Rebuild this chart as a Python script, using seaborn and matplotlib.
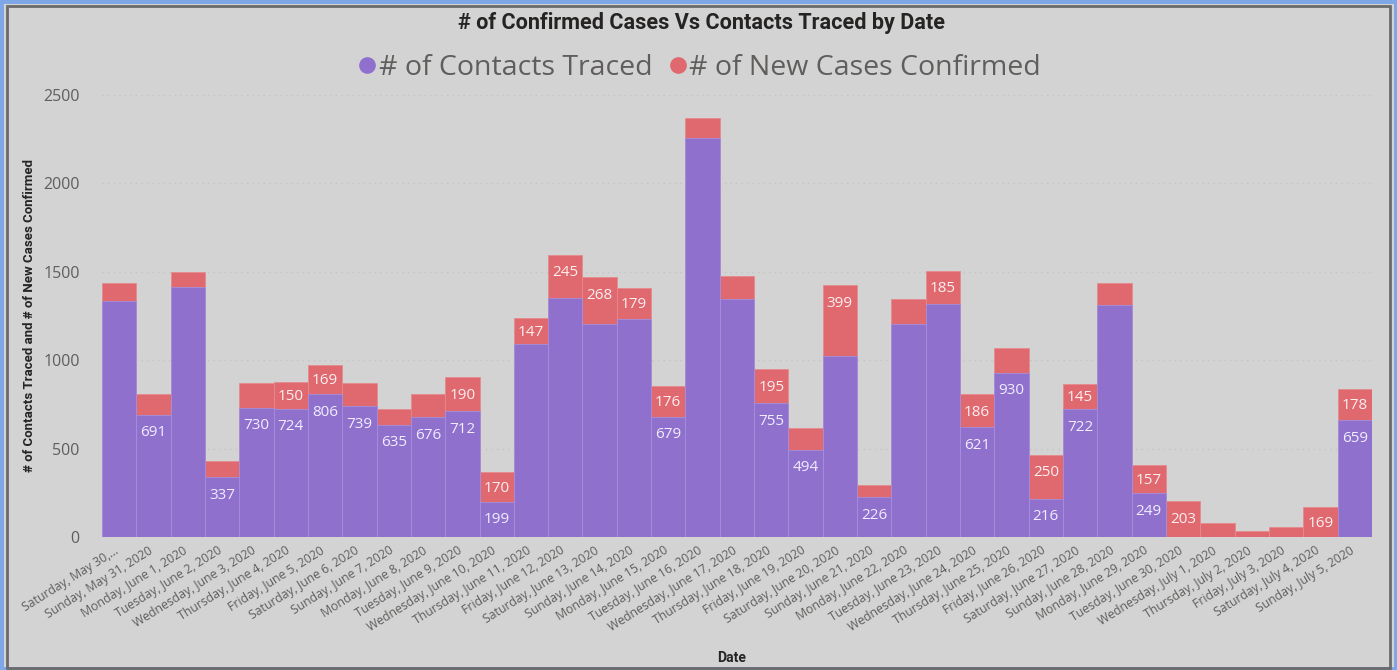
import matplotlib
matplotlib.use("Agg")
import matplotlib.pyplot as plt
import matplotlib.transforms as mtransforms
import seaborn as sns
import pandas as pd
from matplotlib.patches import Rectangle
from matplotlib.lines import Line2D

# data
dates = [
    "Saturday, May 30,...", "Sunday, May 31, 2020", "Monday, June 1, 2020", "Tuesday, June 2, 2020",
    "Wednesday, June 3, 2020", "Thursday, June 4, 2020", "Friday, June 5, 2020", "Saturday, June 6, 2020",
    "Sunday, June 7, 2020", "Monday, June 8, 2020", "Tuesday, June 9, 2020", "Wednesday, June 10, 2020",
    "Thursday, June 11, 2020", "Friday, June 12, 2020", "Saturday, June 13, 2020", "Sunday, June 14, 2020",
    "Monday, June 15, 2020", "Tuesday, June 16, 2020", "Wednesday, June 17, 2020", "Thursday, June 18, 2020",
    "Friday, June 19, 2020", "Saturday, June 20, 2020", "Sunday, June 21, 2020", "Monday, June 22, 2020",
    "Tuesday, June 23, 2020", "Wednesday, June 24, 2020", "Thursday, June 25, 2020", "Friday, June 26, 2020",
    "Saturday, June 27, 2020", "Sunday, June 28, 2020", "Monday, June 29, 2020", "Tuesday, June 30, 2020",
    "Wednesday, July 1, 2020", "Thursday, July 2, 2020", "Friday, July 3, 2020", "Saturday, July 4, 2020",
    "Sunday, July 5, 2020",
]
contacts_traced = [1337, 691, 1411, 337, 730, 724, 806, 739, 635, 676, 712, 199, 1089, 1352, 1202, 1230,
                   679, 2257, 1343, 755, 494, 1026, 226, 1206, 1320, 621, 930, 216, 722, 1313, 249, 0,
                   0, 0, 0, 0, 659]
cases_confirmed = [97, 115, 89, 91, 142, 150, 169, 133, 89, 130, 190, 170, 147, 245, 268, 179,
                   176, 112, 135, 195, 124, 399, 66, 137, 185, 186, 141, 250, 145, 121, 157, 203,
                   81, 36, 59, 169, 178]
# which data labels the chart actually shows
traced_label_idx = [1, 3, 4, 5, 6, 7, 8, 9, 10, 11, 16, 19, 20, 22, 25, 26, 27, 28, 30, 36]
cases_label_idx = [5, 6, 10, 11, 12, 13, 14, 15, 16, 19, 21, 24, 25, 27, 28, 30, 31, 35, 36]

purple = "#8F71CD"
red = "#E0686F"
bg = "#D3D3D3"

df = pd.DataFrame({"Date": dates, "traced": contacts_traced, "cases": cases_confirmed})
df["total"] = df["traced"] + df["cases"]

sns.set_style("white")
plt.rcParams["font.family"] = ["Open Sans", "DejaVu Sans"]

fig = plt.figure(figsize=(13.97, 6.7), dpi=100, facecolor=bg)
ax = fig.add_axes([0.073, 0.1985, 0.909, 0.66])
ax.set_facecolor(bg)

sns.barplot(data=df, x="Date", y="total", color=red, width=1.0, saturation=1,
            edgecolor="#E58A8F", linewidth=0.6, ax=ax, zorder=2)
n_red = len(ax.patches)
sns.barplot(data=df, x="Date", y="traced", color=purple, width=1.0, saturation=1,
            edgecolor="#A58FDB", linewidth=0.6, ax=ax, zorder=3)
red_bars = ax.patches[:n_red]
purple_bars = ax.patches[n_red:]

lab_font = dict(fontsize=11, family=["Open Sans", "DejaVu Sans"], ha="center", va="center", zorder=5)
for i in traced_label_idx:
    b = purple_bars[i]
    ax.annotate(str(contacts_traced[i]), (b.get_x() + b.get_width() / 2, b.get_height()),
                xytext=(0, -13), textcoords="offset points", color="#F1ECFF", **lab_font)
for i in cases_label_idx:
    b = red_bars[i]
    top = b.get_height()
    seg = cases_confirmed[i]
    off = -13 if seg > 180 else -0.5 * seg * 0.1756 * 0.72 - 1
    ax.annotate(str(seg), (b.get_x() + b.get_width() / 2, top),
                xytext=(0, off), textcoords="offset points", color="#FCEFEF", **lab_font)

ax.set_ylim(0, 2500)
ax.set_xlim(-0.5, len(dates) - 0.5)
ax.set_yticks([0, 500, 1000, 1500, 2000, 2500])
ax.yaxis.grid(True, color="#C4C4C4", linestyle=(0, (1, 3)), linewidth=1)
ax.set_axisbelow(True)
for s in ax.spines.values():
    s.set_visible(False)
ax.tick_params(axis="y", length=0, labelsize=11.5, labelcolor="#605E5C", pad=16)
ax.tick_params(axis="x", length=0, labelsize=8.8, labelcolor="#605E5C", pad=5)
ax.set_xticks(range(len(dates)))
ax.set_xticklabels(dates, rotation=32, ha="right", rotation_mode="anchor")
shift = mtransforms.ScaledTranslation(-5 / 100, 0, fig.dpi_scale_trans)
for lab in ax.get_xticklabels():
    lab.set_transform(lab.get_transform() + shift)

bold = ["Roboto", "DejaVu Sans"]
ax.set_ylabel("# of Contacts Traced and # of New Cases Confirmed", fontsize=9.5,
              fontweight="bold", family=bold, color="#252423", labelpad=5)
ax.set_xlabel("")
fig.text(0.5235, 0.012, "Date", fontsize=10, fontweight="bold", family=bold,
         color="#252423", ha="center")

fig.text(0.502, 0.966, "# of Confirmed Cases Vs Contacts Traced by Date", fontsize=15.6,
         fontweight="bold", family=bold, color="#252423", ha="center", va="center")

handles = [Line2D([], [], marker="o", linestyle="", markersize=11, color=purple),
           Line2D([], [], marker="o", linestyle="", markersize=11, color=red)]
leg = fig.legend(handles, ["# of Contacts Traced", "# of New Cases Confirmed"],
                 loc="center", bbox_to_anchor=(0.5, 0.898), ncol=2, frameon=False,
                 fontsize=20.5, handletextpad=0.0, columnspacing=0.5, handlelength=0.8,
                 labelcolor="#605E5C")

# screenshot frame: blue outer border and dark inner line
fig.patches.append(Rectangle((0, 0), 1, 1, transform=fig.transFigure, fill=False,
                             edgecolor="#7DA7E6", linewidth=5, zorder=10))
fig.patches.append(Rectangle((7 / 1397, 2 / 670), 1 - 14 / 1397, 1 - 8 / 670,
                             transform=fig.transFigure, fill=False,
                             edgecolor="#6A6A6A", linewidth=2, zorder=10))

fig.savefig("out.png", dpi=100, facecolor=bg)
